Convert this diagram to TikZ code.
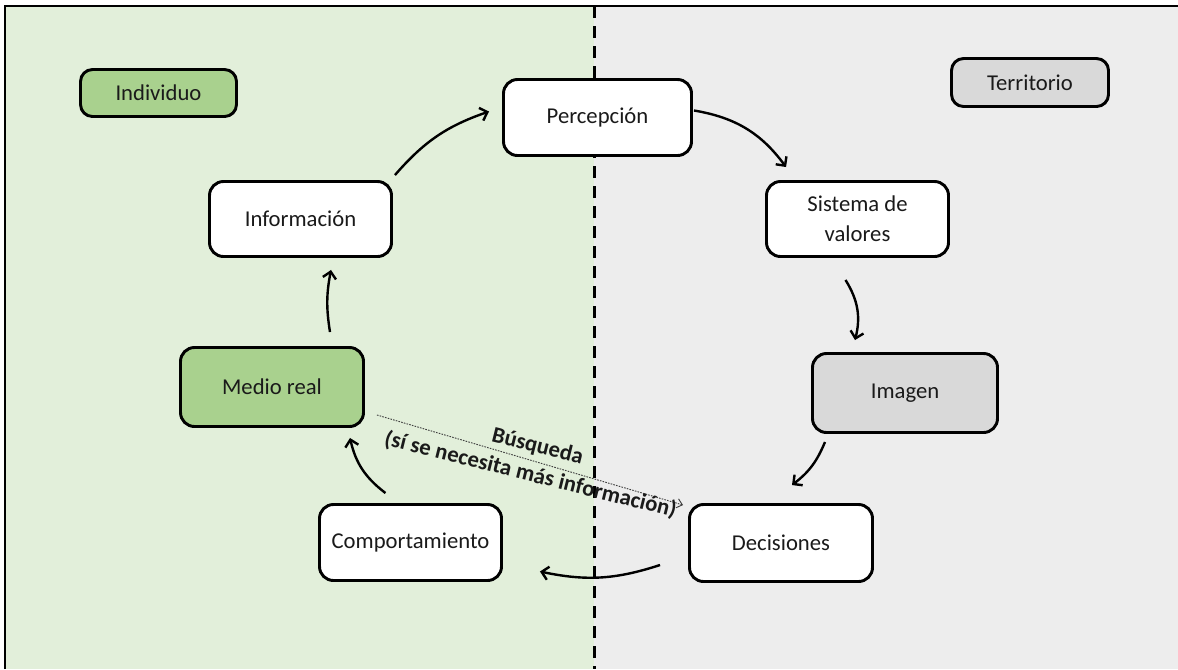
\documentclass[tikz,border=0pt]{standalone}
\usepackage{fontspec}
\setmainfont{Carlito}
\usetikzlibrary{arrows.meta}
\definecolor{lgreen}{HTML}{E2EFDA}
\definecolor{mgreen}{HTML}{A9D18E}
\definecolor{lgray}{HTML}{EDEDED}
\definecolor{mgray}{HTML}{D9D9D9}
\definecolor{txt}{HTML}{1A1A1A}
\begin{document}
\begin{tikzpicture}[x=0.75pt,y=-0.75pt,
  box/.style={draw=black, line width=2.2pt, rounded corners=10.5pt, fill=white,
    text=txt, font=\fontsize{17}{22.5}\selectfont, align=center, inner sep=2pt},
  tag/.style={box, rounded corners=9pt},
  flow/.style={line width=1.8pt, -{Straight Barb[length=5pt,width=10pt]}},
  search/.style={line width=0.7pt, black!75, dash pattern=on 1.2pt off 0.9pt, -{Straight Barb[length=4pt,width=7pt]}},
  divider/.style={line width=2.25pt, dash pattern=on 9pt off 6pt}]
\useasboundingbox (0,0) rectangle (1178,669);
\fill[white] (0,0) rectangle (1178,669);
\fill[lgreen] (5,6) rectangle (594,669);
\fill[lgray] (594,6) rectangle (1178,669);
\draw[line width=2pt] (5,669) -- (5,6) -- (1178,6);
\draw[divider] (594,6) -- (594,669);

\node[tag, fill=mgreen, minimum width=117pt, minimum height=35.25pt] (indiv) at (158.5,93) {Individuo};
\node[tag, fill=mgray, minimum width=117.75pt, minimum height=36pt] (terr) at (1030,82.5) {Territorio};

\node[box, minimum width=141pt, minimum height=57pt] (percep) at (597.5,117.5) {Percepción};
\node[box, minimum width=136.5pt, minimum height=56.25pt] (info) at (300.5,219) {Información};
\node[box, minimum width=136.5pt, minimum height=56.25pt] (sist) at (857.5,219) {Sistema de\\valores};
\node[box, fill=mgreen, minimum width=137.25pt, minimum height=59.25pt] (medio) at (272,387) {Medio real};
\node[box, fill=mgray, minimum width=138.75pt, minimum height=59.25pt] (imagen) at (905,393) {Imagen};
\node[box, minimum width=136.5pt, minimum height=57pt] (comp) at (410.5,542.5) {Comportamiento};
\node[box, minimum width=137.25pt, minimum height=57.75pt] (dec) at (781,543) {Decisiones};

\draw[flow] ([shift={(2,-5)}]info.north east) to[bend left=15] ([shift={(-13,-6)}]percep.west);
\draw[flow] ([shift={(1,-7)}]percep.east) to[bend left=22] ([shift={(21,-13)}]sist.north west);
\draw[flow] ([shift={(-12,22)}]sist.south) to[bend left=23] ([shift={(-50,-12)}]imagen.north);
\draw[flow] ([shift={(-80,8)}]imagen.south) to[bend left=15] ([shift={(11,-18)}]dec.north);
\draw[flow] ([shift={(-28,22)}]dec.west) to[bend left=15] ([shift={(37,29)}]comp.east);
\draw[flow] ([shift={(-25,-10)}]comp.north) to[bend left=20] ([shift={(78,10)}]medio.south);
\draw[flow] ([shift={(58,-14)}]medio.north) to[bend left=10] ([shift={(30.5,12)}]info.south);

\draw[search] ([shift={(12,28)}]medio.east) -- ([shift={(-5,2)}]dec.north west);
\node[rotate=-14, align=center, text=txt, font=\fontsize{17}{22}\selectfont\bfseries, inner sep=0pt] (busq) at (534,461) {Búsqueda\\(sí se necesita más información)};
\end{tikzpicture}
\end{document}
